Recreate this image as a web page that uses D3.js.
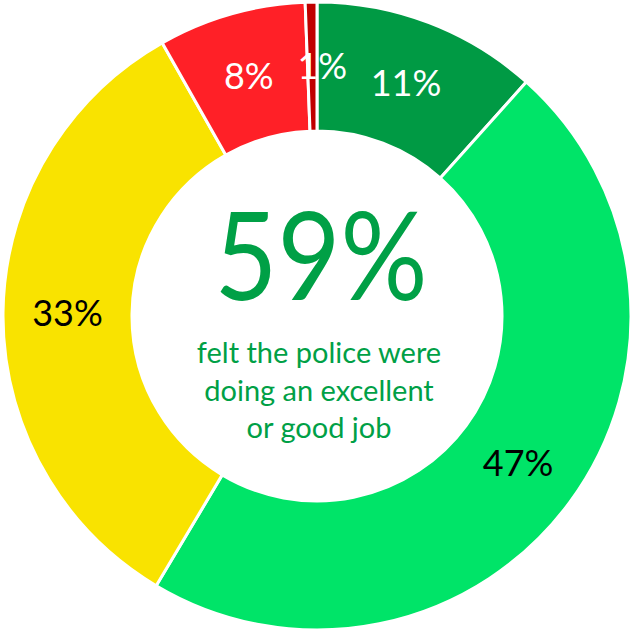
<!DOCTYPE html>
<html><head><meta charset="utf-8">
<script src="https://cdn.jsdelivr.net/npm/d3@7"></script>
<style>html,body{margin:0;padding:0;background:#fff;}svg{display:block;}</style>
</head><body>
<svg id="chart" width="633" height="632"></svg>
<script>
const categories = ["Excellent", "Good", "Fair", "Poor", "Very poor"];
const values = [11.6, 46.9, 33.2, 7.6, 0.6];
const valueLabels = ["11%", "47%", "33%", "8%", "1%"];
const colors = ["#009A44", "#00E468", "#F9E300", "#FF2027", "#C00000"];
const labelColors = ["#ffffff", "#000000", "#000000", "#ffffff", "#ffffff"];
const headline = "59%";
const subtitleLines = ["felt the police were", "doing an excellent", "or good job"];

const svg = d3.select("#chart");
const cx = 317, cy = 316, rOuter = 314, rInner = 185;
const g = svg.append("g").attr("transform", `translate(${cx},${cy})`);
const font = "Lato, 'Open Sans', sans-serif";

const pie = d3.pie().sort(null).value(d => d.v);
const data = pie(values.map((v, i) => ({v, i})));
const arc = d3.arc().innerRadius(rInner).outerRadius(rOuter);

g.selectAll("path").data(data).join("path")
  .attr("d", arc)
  .attr("fill", d => colors[d.data.i])
  .attr("stroke", "#fff").attr("stroke-width", 3).attr("stroke-linejoin", "miter");

g.selectAll("text.lbl").data(data).join("text")
  .attr("class", "lbl")
  .attr("transform", d => { const c = arc.centroid(d); return `translate(${c[0] + (d.data.i === 4 ? 10 : 0)},${c[1]})`; })
  .attr("text-anchor", "middle").attr("dy", "0.35em")
  .attr("font-family", font).attr("font-size", 36)
  .attr("fill", d => labelColors[d.data.i])
  .text(d => valueLabels[d.data.i]);

g.append("text").attr("x", 4).attr("y", -16).attr("text-anchor", "middle")
  .attr("font-family", font).attr("font-size", 122).attr("fill", "#00A046")
  .attr("textLength", 213).attr("lengthAdjust", "spacingAndGlyphs")
  .text(headline);

g.selectAll("text.sub").data(subtitleLines).join("text")
  .attr("class", "sub")
  .attr("x", 2).attr("y", (d, i) => 47 + i * 37.5)
  .attr("text-anchor", "middle")
  .attr("font-family", font).attr("font-size", 29).attr("fill", "#00A046")
  .text(d => d);
</script>
</body></html>
